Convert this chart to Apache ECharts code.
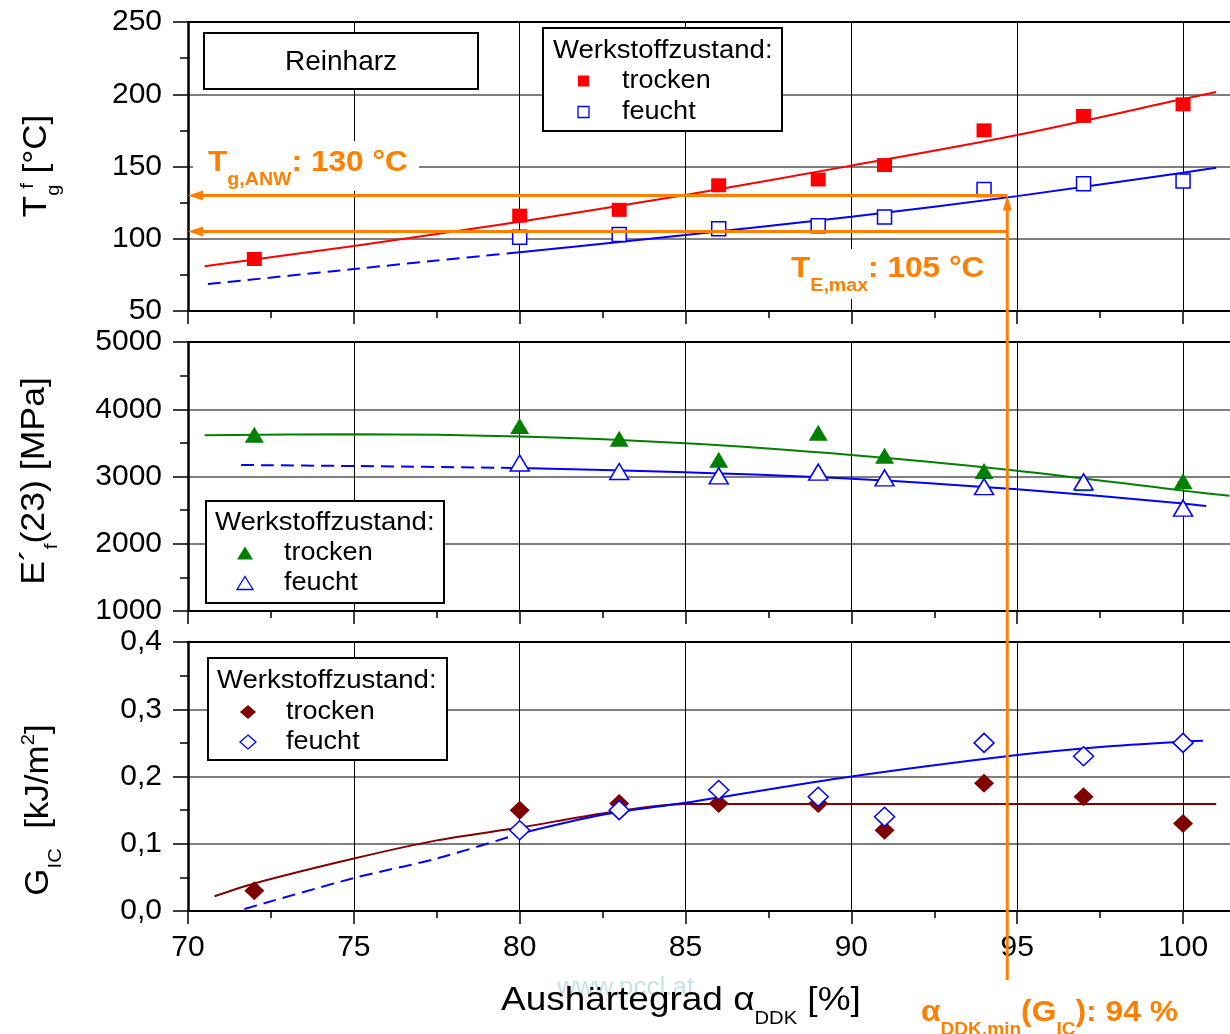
<!DOCTYPE html>
<html><head><meta charset="utf-8">
<script src="https://cdn.jsdelivr.net/npm/echarts@6/dist/echarts.min.js"></script>
<style>html,body{margin:0;padding:0;background:#fff}#c{width:1230px;height:1034px}</style>
</head><body><div id="c"></div>
<script>
// ---------- data ----------
const xDeg    = [72, 80, 83, 86, 89, 91, 94, 97, 100];
const xDegWet = [80, 83, 86, 89, 91, 94, 97, 100];

const tgDry = [86, 116, 120, 137, 141, 151, 175, 185, 193];
const tgWet = [101, 103, 107, 109, 115, 134, 138, 140];
const eDry  = [3620, 3750, 3560, 3250, 3650, 3310, 3080, 2900, 2930];
const eWet  = [3200, 3075, 3010, 3065, 2980, 2850, 2920, 2530];
const gDry  = [0.03, 0.15, 0.16, 0.16, 0.16, 0.12, 0.19, 0.17, 0.13];
const gWet  = [0.12, 0.15, 0.18, 0.17, 0.14, 0.25, 0.23, 0.25];

// fitted curves
const tgDryFitX = [70.5, 75, 80, 85, 90, 95, 100, 101];
const tgDryFit  = [81, 95, 111.8, 130.3, 150.6, 171.8, 196.7, 201.6];
const tgWetDashX = [70.6, 75, 77.5, 80];
const tgWetDash  = [68.7, 79, 85, 90.6];
const tgWetFitX = [80, 83, 85, 90, 95, 100, 101];
const tgWetFit  = [90.6, 97.8, 102.6, 115.3, 129.5, 145.7, 149.2];

const eDryFitX = [70.5, 75, 80, 85, 90, 95, 100, 101.4];
const eDryFit  = [3613, 3628, 3595, 3494, 3320, 3087, 2790, 2714];
const eWetDashX = [71.6, 75, 80];
const eWetDash  = [3171, 3156, 3127];
const eWetFitX = [80, 85, 90, 95, 100, 100.7];
const eWetFit  = [3127, 3062, 2967, 2809, 2600, 2561];

const gDryFitX = [70.8, 72, 75, 77.5, 80, 82.5, 85, 86, 101];
const gDryFit  = [0.022, 0.041, 0.078, 0.105, 0.124, 0.145, 0.159, 0.159, 0.159];
const gWetDashX = [71.7, 75, 77.5, 80];
const gWetDash  = [0.003, 0.049, 0.078, 0.115];
const gWetFitX = [80, 82.5, 85, 90, 95, 97.5, 100, 100.6];
const gWetFit  = [0.115, 0.143, 0.161, 0.2, 0.232, 0.244, 0.252, 0.253];

// annotations
const tgAnw = 130;
const tEmax = 105;
const alphaLine = 94.7;

// axes
const xMin = 70, xMax = 105, xStep = 5;
const xTickLabels = ['70', '75', '80', '85', '90', '95', '100'];
const yRanges = [[50, 250, 50], [1000, 5000, 1000], [0, 0.4, 0.1]];

// ---------- styling ----------
const FONT = '"Liberation Sans", Arial, sans-serif';
const RED = '#ff0000', BLUE = '#0000ff', GREEN = '#008000', DRED = '#800000', ORANGE = '#ff8000';

const GW = 1160.9; // plot width (extends past the right edge of the picture)
const grids = [
  {left: 188, top: 22, height: 289, width: GW, outerBoundsMode: 'none', containLabel: false},
  {left: 188, top: 342, height: 269, width: GW, outerBoundsMode: 'none', containLabel: false},
  {left: 188, top: 642, height: 269, width: GW, outerBoundsMode: 'none', containLabel: false}
];

const xAxes = [];
for (let g = 0; g < 3; g++) {
  xAxes.push({
    type: 'value', gridIndex: g, min: xMin, max: xMax, interval: xStep, position: 'bottom',
    axisLine: {show: true, onZero: false, lineStyle: {color: '#000', width: 2}},
    axisTick: {show: true, inside: false, length: 13, lineStyle: {color: '#000', width: 1.5}},
    minorTick: {show: true, splitNumber: 2, length: 7, lineStyle: {color: '#000', width: 1.5}},
    splitLine: {show: true, lineStyle: {color: '#000', width: 1}},
    axisLabel: {show: g === 2, fontSize: 30, color: '#000', fontFamily: FONT, margin: 22,
      showMaxLabel: false,
      formatter: v => { const i = Math.round((v - xMin) / xStep); return (i >= 0 && i < xTickLabels.length && Math.abs(v - (xMin + i * xStep)) < 1e-6) ? xTickLabels[i] : ''; }}
  });
}
for (let g = 0; g < 3; g++) {
  xAxes.push({
    type: 'value', gridIndex: g, min: xMin, max: xMax, position: 'top',
    axisLine: {show: true, onZero: false, lineStyle: {color: '#000', width: 2}},
    axisTick: {show: false}, axisLabel: {show: false}, splitLine: {show: false}
  });
}
const yAxes = yRanges.map((r, g) => ({
  type: 'value', gridIndex: g, min: r[0], max: r[1], interval: r[2],
  axisLine: {show: true, onZero: false, lineStyle: {color: '#000', width: 2.5}},
  axisTick: {show: true, inside: false, length: 15, lineStyle: {color: '#000', width: 1.5}},
  minorTick: {show: true, splitNumber: 2, length: 8, lineStyle: {color: '#000', width: 1.5}},
  splitLine: {show: true, lineStyle: {color: '#555', width: 1.5}},
  axisLabel: {show: true, fontSize: 30, color: '#000', fontFamily: FONT, margin: 26,
    showMinLabel: true, showMaxLabel: true,
    formatter: g === 2 ? (v => v.toFixed(1).replace('.', ',')) : (v => String(v))}
}));

function pts(xs, ys) { return xs.map((x, i) => [x, ys[i]]); }
function curve(g, xs, ys, color, dashed) {
  return {type: 'line', xAxisIndex: g, yAxisIndex: g, data: pts(xs, ys), smooth: 0.3,
    showSymbol: false, symbol: 'none', silent: true, z: 3,
    lineStyle: {color: color, width: 2, type: dashed ? [13, 7] : 'solid'}};
}
function marks(g, xs, ys, symbol, size, filled, color) {
  return {type: 'scatter', xAxisIndex: g, yAxisIndex: g, data: pts(xs, ys), symbol: symbol,
    symbolSize: size, z: 5, silent: true,
    itemStyle: filled ? {color: color, opacity: 1} : {color: '#fff', borderColor: color, borderWidth: 1.5, opacity: 1}};
}

const series = [
  curve(0, tgDryFitX, tgDryFit, RED, false),
  curve(0, tgWetDashX, tgWetDash, BLUE, true),
  curve(0, tgWetFitX, tgWetFit, BLUE, false),
  marks(0, xDeg, tgDry, 'rect', [15, 14], true, RED),
  marks(0, xDegWet, tgWet, 'rect', [14, 14], false, BLUE),

  curve(1, eDryFitX, eDryFit, GREEN, false),
  curve(1, eWetDashX, eWetDash, BLUE, true),
  curve(1, eWetFitX, eWetFit, BLUE, false),
  marks(1, xDeg, eDry, 'triangle', [19, 16], true, GREEN),
  marks(1, xDegWet, eWet, 'triangle', [19, 16], false, BLUE),

  curve(2, gDryFitX, gDryFit, DRED, false),
  curve(2, gWetDashX, gWetDash, BLUE, true),
  curve(2, gWetFitX, gWetFit, BLUE, false),
  marks(2, xDeg, gDry, 'diamond', [20, 19], true, DRED),
  marks(2, xDegWet, gWet, 'diamond', [20, 19], false, BLUE)
];

const chart = echarts.init(document.getElementById('c'), null, {renderer: 'canvas', width: 1230, height: 1034});
chart.setOption({
  animation: false,
  backgroundColor: '#fff',
  grid: grids,
  xAxis: xAxes,
  yAxis: yAxes,
  series: series
});

// ---------- text helpers ----------
const mctx = document.createElement('canvas').getContext('2d');
function tw(t, fs, bold) { mctx.font = (bold ? 'bold ' : '') + fs + 'px ' + FONT; return mctx.measureText(t).width; }
function segText(segs, o) {
  const widths = segs.map(s => tw(s.t, s.fs, o.bold));
  let total = 0; segs.forEach((s, i) => { total += (s.dx || 0) + widths[i]; });
  let cx = o.align === 'center' ? -total / 2 : 0;
  const children = [];
  segs.forEach((s, i) => {
    cx += (s.dx || 0);
    children.push({type: 'text', z: 62, silent: true, x: cx, y: (s.dy || 0) - 0.3465 * s.fs,
      style: {text: s.t, fontSize: s.fs, fontFamily: FONT, fontWeight: o.bold ? 'bold' : 'normal',
        fill: o.color || '#000', align: 'left', verticalAlign: 'middle'}});
    cx += widths[i];
  });
  return {type: 'group', x: o.x, y: o.y, rotation: o.rotation || 0, scaleX: o.sx || 1, z: 62, silent: true, children: children};
}
function plainText(t, x, y, fs, o) {
  o = o || {};
  return {type: 'text', x: x, y: y, z: 62, silent: true, scaleX: o.sx || 1,
    style: {text: t, fontSize: fs, fontFamily: FONT, fontWeight: o.bold ? 'bold' : 'normal',
      fill: o.color || '#000', align: o.align || 'left', verticalAlign: 'middle'}};
}
function box(x, y, w, h) {
  return {type: 'rect', z: 55, silent: true, shape: {x: x, y: y, width: w, height: h},
    style: {fill: '#fff', stroke: '#000', lineWidth: 2}};
}
function sym(kind, cx, cy, w, h, filled, color) {
  const st = filled ? {fill: color} : {fill: '#fff', stroke: color, lineWidth: 1.3};
  if (kind === 'rect') return {type: 'rect', z: 62, silent: true, shape: {x: cx - w / 2, y: cy - h / 2, width: w, height: h}, style: st};
  let pts2;
  if (kind === 'triangle') pts2 = [[cx, cy - h / 2], [cx + w / 2, cy + h / 2], [cx - w / 2, cy + h / 2]];
  else pts2 = [[cx, cy - h / 2], [cx + w / 2, cy], [cx, cy + h / 2], [cx - w / 2, cy]];
  return {type: 'polygon', z: 62, silent: true, shape: {points: pts2}, style: st};
}
function legend(bx, by, bw, bh, tx, ty, mx, ry1, ry2, tx2, kind, mw, mh, dryColor) {
  return [
    box(bx, by, bw, bh),
    plainText('Werkstoffzustand:', tx, ty, 26, {sx: 1.06}),
    sym(kind, mx, ry1, mw, mh, true, dryColor),
    plainText('trocken', tx2, ry1, 26, {sx: 1.04}),
    sym(kind, mx, ry2, mw, mh, false, BLUE),
    plainText('feucht', tx2, ry2, 26, {sx: 1.04})
  ];
}

// ---------- annotations positioned via the chart's scales ----------
const P = (g, v) => chart.convertToPixel({xAxisIndex: g, yAxisIndex: g}, v);
const pA = P(0, [alphaLine, tgAnw]);
const pA0 = P(0, [xMin, tgAnw]);
const pE = P(0, [alphaLine, tEmax]);
const pE0 = P(0, [xMin, tEmax]);
const pBottom = P(2, [alphaLine, -0.1025]);
const vx = pA[0];

const els = [];
const oLine = (x1, y1, x2, y2) => ({type: 'line', z: 70, silent: true, shape: {x1: x1, y1: y1, x2: x2, y2: y2}, style: {stroke: ORANGE, lineWidth: 3}});
const oPoly = (points) => ({type: 'polygon', z: 70, silent: true, shape: {points: points}, style: {fill: ORANGE}});
els.push(oLine(pA0[0] + 10, pA[1], vx, pA[1]));
els.push(oPoly([[pA0[0], pA[1]], [pA0[0] + 15, pA[1] - 5], [pA0[0] + 15, pA[1] + 5]]));
els.push(oLine(pE0[0] + 10, pE[1], vx - 1, pE[1]));
els.push(oPoly([[pE0[0], pE[1]], [pE0[0] + 15, pE[1] - 5], [pE0[0] + 15, pE[1] + 5]]));
els.push(oLine(vx, pA[1] + 10, vx, pBottom[1]));
els.push(oPoly([[vx, pA[1]], [vx - 4.5, pA[1] + 15], [vx + 4.5, pA[1] + 15]]));

// white backgrounds behind orange labels in the plot
els.push({type: 'rect', z: 58, silent: true, shape: {x: 193, y: 141, width: 226, height: 50}, style: {fill: '#fff'}});
els.push({type: 'rect', z: 58, silent: true, shape: {x: 780, y: 249, width: 215, height: 50}, style: {fill: '#fff'}});

els.push(segText([
  {t: 'T', fs: 29}, {t: 'g,ANW', fs: 18, dy: 13}, {t: ': 130 °C', fs: 29}
], {x: 208, y: 173, bold: true, color: ORANGE, sx: 1.09}));
els.push(segText([
  {t: 'T', fs: 29}, {t: 'E,max', fs: 18, dy: 13}, {t: ': 105 °C', fs: 29}
], {x: 791, y: 279, bold: true, color: ORANGE, sx: 1.09}));
els.push(segText([
  {t: 'α', fs: 30}, {t: 'DDK,min', fs: 18, dy: 13}, {t: '(G', fs: 30}, {t: 'IC', fs: 18, dy: 13}, {t: '): 94 %', fs: 30}
], {x: 921, y: 1023, bold: true, color: ORANGE, sx: 1.06}));

// Reinharz box
els.push(box(204, 33, 274, 56));
els.push({type: 'text', z: 62, silent: true, x: 341, y: 62, style: {text: 'Reinharz', fontSize: 28, fontFamily: FONT, fill: '#000', align: 'center', verticalAlign: 'middle'}});

// legends
els.push(...legend(543, 28, 239, 103, 553, 51, 583.5, 81, 112, 622, 'rect', 11, 11, RED));
els.push(...legend(206, 501, 238, 102, 215, 523, 245, 553, 583, 284, 'triangle', 16, 13, GREEN));
els.push(...legend(208, 658, 239, 102, 217, 681, 248, 712, 742, 286, 'diamond', 16, 14, DRED));

// axis titles
els.push(segText([
  {t: 'T', fs: 33}, {t: 'g', fs: 19, dy: 12}, {t: 'f', fs: 19, dy: -14, dx: -4}, {t: ' [°C]', fs: 33}
], {x: 48, y: 166, align: 'center', rotation: Math.PI / 2, sx: 1.06}));
els.push(segText([
  {t: 'E´', fs: 33}, {t: 'f', fs: 19, dy: 12}, {t: '(23) [MPa]', fs: 33}
], {x: 46, y: 481, align: 'center', rotation: Math.PI / 2, sx: 1.08}));
els.push(segText([
  {t: 'G', fs: 33}, {t: 'IC', fs: 19, dy: 12}, {t: '  [kJ/m', fs: 33}, {t: '2', fs: 19, dy: -15}, {t: ']', fs: 33}
], {x: 50, y: 810, align: 'center', rotation: Math.PI / 2, sx: 1.06}));

// watermark + x title
els.push({type: 'text', z: 1, silent: true, x: 557, y: 988, style: {text: 'www.pccl.at', fontSize: 26, fontFamily: FONT, fill: '#c4e4ea', align: 'left', verticalAlign: 'middle'}});
els.push(segText([
  {t: 'Aushärtegrad α', fs: 33}, {t: 'DDK', fs: 18, dy: 13}, {t: ' [%]', fs: 33}
], {x: 501, y: 1012, sx: 1.12}));

chart.setOption({graphic: {elements: els}});
</script>
</body></html>
